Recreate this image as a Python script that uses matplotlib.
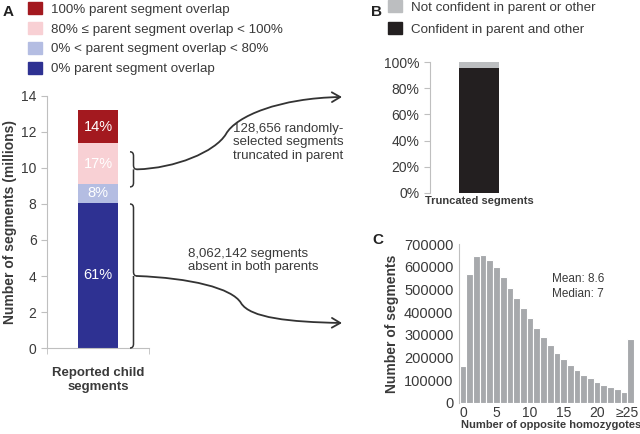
import matplotlib
matplotlib.use("Agg")
import matplotlib.pyplot as plt
from matplotlib.path import Path
from matplotlib.patches import FancyArrowPatch, PathPatch, Patch
from matplotlib.ticker import PercentFormatter
from matplotlib.transforms import ScaledTranslation

plt.rcParams['font.family'] = ['Liberation Sans', 'DejaVu Sans']

# panel A: stacked child segments (millions)
overlap_labels = ["0% parent segment overlap",
                  "0% < parent segment overlap < 80%",
                  "80% \u2264 parent segment overlap < 100%",
                  "100% parent segment overlap"]
overlap_values = [8.06, 1.06, 2.25, 1.85]
overlap_pct = ["61%", "8%", "17%", "14%"]
overlap_colors = ["#2e3192", "#b4bde2", "#f8d0d4", "#a3191f"]

# panel B: truncated segments
conf_labels = ["Confident in parent and other", "Not confident in parent or other"]
conf_values = [0.955, 0.045]
conf_colors = ["#231f20", "#bcbec0"]

# panel C: histogram of opposite homozygotes
homo_bins = list(range(26))
homo_counts = [165000, 570000, 648000, 652000, 630000, 600000, 553000, 508000,
               463000, 418000, 373000, 328000, 290000, 255000, 222000, 195000,
               168000, 145000, 125000, 108000, 93000, 80000, 70000, 60000,
               50000, 280000]
homo_ticks = [0, 5, 10, 15, 20, 25]
homo_ticklabels = ["0", "5", "10", "15", "20", "\u226525"]

W, H = 640, 434
TXT = "#3a3a3a"
SPINE = "#bfbfbf"

fig = plt.figure(figsize=(W / 100, H / 100), dpi=100)


def px(l, t, r, b):
    return [l / W, 1 - b / H, (r - l) / W, (b - t) / H]


def style(ax):
    for s in ["top", "right"]:
        ax.spines[s].set_visible(False)
    for s in ["left", "bottom"]:
        ax.spines[s].set_color(SPINE)
    ax.tick_params(colors=SPINE, labelcolor=TXT, length=4)


# ---- A
axa = fig.add_axes(px(47, 96, 149, 348))
style(axa)
bottom = 0
for v, c, p in zip(overlap_values, overlap_colors, overlap_pct):
    axa.bar(0, v, width=0.4, bottom=bottom, color=c)
    axa.text(0, bottom + v / 2, p, color="white", ha="center", va="center", fontsize=10.5)
    bottom += v
axa.set_xlim(-0.5, 0.5)
axa.set_ylim(0, 14)
axa.set_yticks(range(0, 15, 2))
axa.tick_params(axis="y", labelsize=10)
axa.set_xticks([0])
axa.set_xticklabels(["Reported child\nsegments"], fontweight="bold", fontsize=9.5)
axa.tick_params(axis="x", length=0, pad=14)
axa.set_xticks([-0.5, 0.5], minor=True)
axa.tick_params(axis="x", which="minor", length=4, color=SPINE)
axa.set_ylabel("Number of segments (millions)", fontweight="bold", fontsize=10, color=TXT, labelpad=3)

fig.legend(handles=[Patch(color=c) for c in overlap_colors[::-1]], labels=overlap_labels[::-1],
           loc="upper left", bbox_to_anchor=(28 / W, 1 - 2 / H), frameon=False, fontsize=9.6,
           handlelength=1.05, handleheight=1.05, handletextpad=0.7, labelspacing=0.46,
           borderpad=0, borderaxespad=0, labelcolor=TXT)

# ---- B
axb = fig.add_axes(px(430, 62, 528, 193))
style(axb)
axb.spines["bottom"].set_visible(False)
bottom = 0
for v, c in zip(conf_values, conf_colors):
    axb.bar(0, v, width=0.4, bottom=bottom, color=c)
    bottom += v
axb.set_xlim(-0.5, 0.5)
axb.set_ylim(0, 1)
axb.set_yticks([0, 0.2, 0.4, 0.6, 0.8, 1.0])
axb.yaxis.set_major_formatter(PercentFormatter(1.0, decimals=0))
axb.tick_params(axis="y", labelsize=10)
axb.set_xticks([0])
axb.set_xticklabels(["Truncated segments"], fontweight="bold", fontsize=8)
axb.tick_params(axis="x", length=0, pad=2)
fig.legend(handles=[Patch(color=c) for c in conf_colors[::-1]], labels=conf_labels[::-1],
           loc="upper left", bbox_to_anchor=(388 / W, 1 - 0 / H), frameon=False, fontsize=9.6,
           handlelength=1.05, handleheight=1.05, handletextpad=0.7, labelspacing=0.62,
           borderpad=0, borderaxespad=0, labelcolor=TXT)

# ---- C
axc = fig.add_axes(px(459, 244, 634, 403))
style(axc)
axc.spines["bottom"].set_visible(False)
axc.bar(homo_bins, homo_counts, width=1.0, color="#a7a9ac", edgecolor="white", linewidth=0.8)
axc.set_xlim(-0.6, 25.5)
axc.set_ylim(0, 700000)
axc.set_yticks(range(0, 700001, 100000))
axc.tick_params(axis="y", labelsize=10.5, length=0, pad=4)
axc.set_xticks(homo_ticks)
axc.set_xticklabels(homo_ticklabels)
axc.tick_params(axis="x", labelsize=10, length=0, pad=2)
last = axc.get_xticklabels()[-1]
last.set_transform(last.get_transform() + ScaledTranslation(-3 / 100, 0, fig.dpi_scale_trans))
axc.set_ylabel("Number of segments", fontweight="bold", fontsize=10, color=TXT, labelpad=4)
fig.text(551 / W, 1 - 425 / H, "Number of opposite homozygotes", fontweight="bold", fontsize=8,
         color=TXT, ha="center", va="center")
axc.text(552 / W, 1 - 273 / H, "Mean: 8.6\nMedian: 7", transform=fig.transFigure, fontsize=8.5,
         color=TXT, va="top", linespacing=1.3)

# panel letters
for x, y, s in [(3, 12, "A"), (371, 12, "B"), (372, 240, "C")]:
    fig.text(x / W, 1 - y / H, s, fontweight="bold", fontsize=11, va="center", color="#222222")

# ---- overlay: braces and arrows (pixel coordinates)
ov = fig.add_axes([0, 0, 1, 1])
ov.set_xlim(0, W)
ov.set_ylim(H, 0)
ov.axis("off")
ov.patch.set_visible(False)


def ypx(v):
    return H - axa.transData.transform((0, v))[1]


def brace(x0, top, bot, w=7):
    mid = (top + bot) / 2
    xm = x0 + w / 2
    verts = [(x0, top), (xm, top), (xm, top + 4), (xm, top + 4),
             (xm, mid - 4), (xm, mid), (x0 + w, mid),
             (xm, mid), (xm, mid + 4), (xm, mid + 4),
             (xm, bot - 4), (xm, bot), (x0, bot)]
    codes = [Path.MOVETO, Path.CURVE3, Path.CURVE3, Path.LINETO,
             Path.LINETO, Path.CURVE3, Path.CURVE3,
             Path.MOVETO, Path.CURVE3, Path.LINETO,
             Path.LINETO, Path.CURVE3, Path.CURVE3]
    ov.add_patch(PathPatch(Path(verts, codes), fill=False, ec="#333333", lw=1.1))
    return (x0 + w, mid)


tip1 = brace(130, ypx(10.9), ypx(8.95))
tip2 = brace(130, ypx(8.0), ypx(0))


def curve(p0, c1, c2, p1, c3, c4, p2):
    path = Path([p0, c1, c2, p1, c3, c4, p2],
                [Path.MOVETO] + [Path.CURVE4] * 6)
    ov.add_patch(FancyArrowPatch(path=path, arrowstyle="->,head_length=6,head_width=3.5",
                                 color="#333333", lw=1.3))


curve(tip1, (175, tip1[1] - 1), (215, 152), (226, 134), (236, 116), (280, 98), (342, 97))
curve(tip2, (190, tip2[1] + 2), (232, 288), (241, 303), (250, 318), (290, 322), (342, 323))

fig.text(233 / W, 1 - 123 / H, "128,656 randomly-\nselected segments\ntruncated in parent",
         fontsize=9.5, color=TXT, va="top", linespacing=1.15)
fig.text(188 / W, 1 - 248 / H, "8,062,142 segments\nabsent in both parents",
         fontsize=9.5, color=TXT, va="top", linespacing=1.15)

fig.savefig("out.png", dpi=100)
